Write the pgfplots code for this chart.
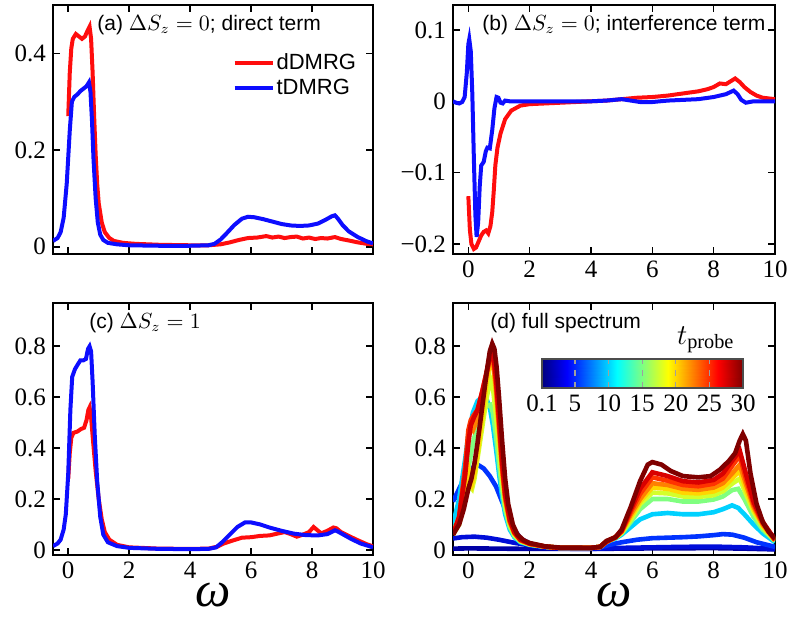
\documentclass[border=0pt]{standalone}
\usepackage{fontspec}
\setmainfont{Liberation Serif}
\setsansfont{Liberation Sans}
\usepackage{pgfplots}
\pgfplotsset{compat=1.18}

\definecolor{dred}{rgb}{1,0.05,0.05}
\definecolor{tblue}{rgb}{0.05,0.05,1}
\definecolor{c01}{rgb}{0,0,0.65}
\definecolor{c02}{rgb}{0,0.05,0.85}
\definecolor{c05}{rgb}{0,0.2,1}
\definecolor{c10}{rgb}{0,0.82,1}
\definecolor{c15}{rgb}{0.5,1,0.5}
\definecolor{c17}{rgb}{0.83,1,0.17}
\definecolor{c20}{rgb}{1,0.84,0}
\definecolor{c22}{rgb}{1,0.5,0}
\definecolor{c25}{rgb}{1,0.2,0}
\definecolor{c27}{rgb}{0.85,0,0}
\definecolor{c30}{rgb}{0.5,0,0}

\pgfplotsset{
  panel/.style={
    scale only axis,
    anchor=south west,
    xmin=-0.5, xmax=10,
    xtick={0,2,4,6,8,10},
    tick align=inside,
    major tick length=3.5pt,
    axis line style={line width=0.8pt},
    every tick/.style={line width=0.8pt, black},
    tick label style={font=\fontsize{12.5}{14}\selectfont},
    x label style={at={(axis description cs:0.5,-0.16)}, anchor=center,
                   font=\fontsize{25}{27}\selectfont},
  },
}
\tikzset{lab/.style={anchor=west, inner sep=0pt, font=\sffamily\fontsize{10.5}{12}\selectfont}}

\begin{document}
\begin{tikzpicture}
\useasboundingbox (0,0) rectangle (395pt,309.5pt);

% (a)
\begin{axis}[panel,
  at={(26.5pt,182.5pt)}, width=160pt, height=124.5pt,
  ymin=-0.015, ymax=0.5,
  ytick={0,0.2,0.4}, yticklabels={0,0.2,0.4},
  xticklabel=\empty,
  legend style={draw=none, fill=none, at={(0.56,0.717)}, anchor=west,
    inner sep=0pt, row sep=1.5pt, nodes={inner sep=1pt},
    font=\sffamily\fontsize{11}{13}\selectfont},
  legend cell align=left,
  legend image code/.code={\draw[#1] (0pt,0pt) -- (19pt,0pt);},
]
\addplot[dred, line width=2pt] coordinates {
(0,0.27)(0.05,0.36)(0.1,0.41)(0.15,0.43)(0.25,0.44)(0.35,0.435)(0.45,0.43)(0.55,0.435)
(0.62,0.445)(0.7,0.455)(0.75,0.43)(0.8,0.36)(0.85,0.27)(0.9,0.19)(0.95,0.13)(1.0,0.09)
(1.1,0.05)(1.2,0.03)(1.35,0.018)(1.5,0.012)(1.8,0.008)(2.2,0.006)(3,0.004)(4,0.003)
(4.6,0.003)(5,0.005)(5.3,0.009)(5.6,0.014)(5.9,0.018)(6.2,0.019)(6.5,0.022)(6.7,0.019)
(6.9,0.021)(7.1,0.018)(7.3,0.02)(7.5,0.021)(7.7,0.017)(7.9,0.019)(8.1,0.016)(8.3,0.018)
(8.5,0.017)(8.75,0.02)(8.95,0.016)(9.2,0.013)(9.5,0.009)(9.8,0.006)(10,0.005)};
\addlegendentry{dDMRG}
\addplot[tblue, line width=2pt] coordinates {
(-0.5,0.012)(-0.35,0.018)(-0.25,0.03)(-0.15,0.06)(-0.05,0.13)(0.05,0.24)(0.12,0.3)
(0.2,0.31)(0.3,0.315)(0.4,0.322)(0.5,0.327)(0.6,0.332)(0.68,0.34)(0.73,0.32)(0.78,0.26)
(0.83,0.18)(0.9,0.1)(0.97,0.05)(1.05,0.025)(1.15,0.014)(1.3,0.008)(1.6,0.005)(2,0.003)
(3,0.002)(4,0.002)(4.6,0.003)(4.8,0.006)(5,0.015)(5.2,0.028)(5.45,0.045)(5.7,0.058)
(5.9,0.062)(6.1,0.061)(6.4,0.057)(6.7,0.052)(7,0.047)(7.3,0.044)(7.6,0.043)(7.9,0.044)
(8.2,0.048)(8.45,0.056)(8.65,0.063)(8.75,0.065)(8.85,0.058)(9.0,0.045)(9.2,0.032)
(9.5,0.02)(9.8,0.011)(10,0.007)};
\addlegendentry{tDMRG}
\node[lab] at (rel axis cs:0.1375,0.92) {(a) $\Delta S_z=0$; direct term};
\end{axis}

% (b)
\begin{axis}[panel,
  at={(226.5pt,182.5pt)}, width=161pt, height=124.5pt,
  ymin=-0.214, ymax=0.135,
  ytick={-0.2,-0.1,0,0.1}, yticklabels={−0.2,−0.1,0,0.1},
  xticklabels={0,2,4,6,8,10},
]
\addplot[dred, line width=2pt] coordinates {
(0,-0.133)(0.05,-0.18)(0.1,-0.2)(0.18,-0.207)(0.25,-0.205)(0.33,-0.197)(0.42,-0.188)
(0.5,-0.183)(0.58,-0.181)(0.65,-0.185)(0.72,-0.175)(0.78,-0.155)(0.83,-0.125)(0.88,-0.09)
(0.95,-0.065)(1.05,-0.045)(1.2,-0.025)(1.4,-0.013)(1.7,-0.006)(2,-0.004)(3,-0.002)(4,0)
(4.5,0.001)(5,0.003)(5.5,0.005)(6,0.006)(6.5,0.008)(7,0.011)(7.5,0.014)(7.8,0.017)
(8,0.02)(8.2,0.025)(8.4,0.024)(8.55,0.028)(8.7,0.032)(8.85,0.027)(9,0.02)(9.2,0.013)
(9.4,0.008)(9.6,0.005)(10,0.003)};
\addplot[tblue, line width=2pt] coordinates {
(-0.5,0)(-0.4,-0.002)(-0.3,-0.003)(-0.2,-0.001)(-0.12,0.006)(-0.05,0.04)(0,0.08)
(0.03,0.087)(0.08,0.07)(0.13,0.01)(0.18,-0.08)(0.23,-0.16)(0.27,-0.19)(0.32,-0.17)
(0.37,-0.12)(0.42,-0.09)(0.5,-0.085)(0.57,-0.07)(0.62,-0.065)(0.7,-0.066)(0.78,-0.04)
(0.85,-0.01)(0.92,0.006)(0.98,0.005)(1.05,-0.002)(1.12,-0.003)(1.2,0.001)(1.35,0)(2,0)
(4,0)(4.5,0.001)(5,0.003)(5.3,0.001)(5.6,-0.001)(6,-0.001)(6.5,0.001)(7,0.002)(7.5,0.003)
(8,0.006)(8.4,0.01)(8.65,0.015)(8.78,0.01)(8.9,0.002)(9.05,-0.002)(9.3,0)(10,0)};
\node[lab] at (rel axis cs:0.09,0.92) {(b) $\Delta S_z=0$; interference term};
\end{axis}

% (c)
\begin{axis}[panel,
  at={(26.5pt,32pt)}, width=160pt, height=126pt,
  ymin=-0.02, ymax=0.97,
  ytick={0,0.2,0.4,0.6,0.8}, yticklabels={0,0.2,0.4,0.6,0.8},
  xticklabels={0,2,4,6,8,10},
  xlabel={\itshape ω},
]
\addplot[dred, line width=2pt] coordinates {
(0,0.28)(0.05,0.38)(0.1,0.44)(0.17,0.46)(0.3,0.465)(0.42,0.475)(0.52,0.48)(0.6,0.51)
(0.66,0.55)(0.7,0.56)(0.75,0.52)(0.82,0.42)(0.9,0.31)(1.0,0.2)(1.1,0.12)(1.2,0.07)
(1.35,0.04)(1.6,0.02)(2,0.01)(3,0.005)(4,0.004)(4.6,0.005)(4.9,0.013)(5.1,0.025)
(5.4,0.037)(5.7,0.048)(6,0.05)(6.3,0.055)(6.6,0.057)(6.9,0.065)(7.1,0.07)(7.3,0.062)
(7.5,0.052)(7.7,0.06)(7.9,0.07)(8.05,0.09)(8.15,0.08)(8.3,0.065)(8.5,0.075)(8.7,0.088)
(8.8,0.085)(8.95,0.07)(9.2,0.055)(9.5,0.038)(9.8,0.022)(10,0.014)};
\addplot[tblue, line width=2pt] coordinates {
(-0.5,0.015)(-0.35,0.025)(-0.25,0.04)(-0.15,0.08)(-0.08,0.14)(0,0.3)(0.07,0.55)
(0.13,0.68)(0.22,0.71)(0.32,0.73)(0.4,0.745)(0.5,0.745)(0.58,0.75)(0.65,0.79)(0.7,0.8)
(0.75,0.78)(0.8,0.66)(0.87,0.45)(0.95,0.27)(1.05,0.13)(1.15,0.06)(1.3,0.03)(1.6,0.015)
(2,0.008)(3,0.004)(4,0.003)(4.6,0.004)(4.85,0.01)(5.05,0.03)(5.3,0.06)(5.55,0.09)
(5.8,0.108)(6,0.108)(6.3,0.1)(6.6,0.088)(7,0.075)(7.4,0.064)(7.8,0.058)(8.2,0.057)
(8.5,0.062)(8.75,0.077)(8.85,0.072)(9.0,0.062)(9.3,0.042)(9.6,0.025)(10,0.01)};
\node[lab] at (rel axis cs:0.1125,0.92) {(c) $\Delta S_z=1$};
\end{axis}

% (d)
\begin{axis}[panel,
  at={(226.5pt,32pt)}, width=161pt, height=126pt,
  ymin=-0.02, ymax=0.97,
  ytick={0,0.2,0.4,0.6,0.8}, yticklabels={0,0.2,0.4,0.6,0.8},
  xticklabels={0,2,4,6,8,10},
  xlabel={\itshape ω},
]
\addplot[c01, line width=2.3pt] coordinates {
(-0.5,0.005)(0,0.006)(2,0.004)(4,0.004)(6,0.006)(8,0.007)(9,0.005)(10,0.002)};
\addplot[c02, line width=2.3pt] coordinates {
(-0.5,0.045)(-0.2,0.05)(0.2,0.052)(0.6,0.048)(1,0.04)(1.5,0.028)(2,0.018)(2.5,0.01)
(3,0.006)(3.5,0.004)(4,0.004)(4.5,0.006)(5,0.008)(6,0.01)(7,0.012)(8,0.013)(9,0.01)(10,0.004)};
\addplot[c05, line width=2.3pt] coordinates {
(-0.5,0.19)(-0.3,0.24)(-0.1,0.29)(0.1,0.32)(0.3,0.335)(0.5,0.32)(0.7,0.29)(0.9,0.25)
(1.1,0.19)(1.3,0.13)(1.5,0.08)(1.7,0.045)(2,0.025)(2.5,0.012)(3,0.007)(3.5,0.006)(4,0.007)
(4.3,0.01)(4.6,0.02)(5,0.03)(5.5,0.04)(6,0.046)(6.5,0.048)(7,0.05)(7.5,0.053)(8,0.058)
(8.3,0.062)(8.6,0.06)(9,0.048)(9.4,0.03)(10,0.012)};
\addplot[c10, line width=2.3pt] coordinates {
(-0.5,0.1)(-0.3,0.2)(-0.1,0.36)(0,0.45)(0.15,0.54)(0.3,0.585)(0.45,0.6)(0.6,0.59)
(0.7,0.56)(0.8,0.49)(0.9,0.4)(1.0,0.3)(1.1,0.21)(1.2,0.14)(1.35,0.08)(1.5,0.05)(1.7,0.03)
(2,0.02)(2.5,0.012)(3,0.008)(4,0.008)(4.3,0.012)(4.5,0.03)(4.8,0.045)(5,0.06)(5.3,0.09)
(5.6,0.12)(6,0.14)(6.5,0.145)(7,0.14)(7.5,0.14)(8,0.148)(8.3,0.16)(8.6,0.175)(8.8,0.165)
(9,0.14)(9.3,0.1)(9.6,0.065)(10,0.03)};
\addplot[c15, line width=2.3pt] coordinates {
(-0.5,0.07)(-0.3,0.13)(-0.1,0.25)(0,0.32)(0.15,0.42)(0.3,0.49)(0.45,0.54)(0.6,0.565)
(0.72,0.57)(0.8,0.54)(0.9,0.45)(1.0,0.34)(1.1,0.24)(1.2,0.16)(1.35,0.09)(1.5,0.055)
(1.7,0.033)(2,0.021)(2.5,0.013)(3,0.008)(4,0.008)(4.3,0.012)(4.5,0.032)(4.8,0.048)
(5,0.065)(5.3,0.11)(5.6,0.16)(6,0.2)(6.5,0.2)(7,0.19)(7.5,0.19)(8,0.198)(8.3,0.21)
(8.6,0.235)(8.8,0.24)(9,0.2)(9.3,0.13)(9.6,0.08)(10,0.035)};
\addplot[c17, line width=2.3pt] coordinates {
(-0.5,0.06)(-0.3,0.1)(-0.1,0.2)(0,0.28)(0.05,0.25)(0.12,0.24)(0.2,0.28)(0.3,0.36)
(0.45,0.48)(0.6,0.6)(0.72,0.67)(0.8,0.64)(0.9,0.53)(1.0,0.4)(1.1,0.28)(1.2,0.18)
(1.35,0.1)(1.5,0.06)(1.7,0.035)(2,0.022)(2.5,0.013)(3,0.008)(4,0.008)(4.3,0.012)
(4.5,0.032)(4.8,0.048)(5,0.068)(5.3,0.12)(5.6,0.18)(6,0.225)(6.5,0.222)(7,0.21)
(7.5,0.208)(8,0.215)(8.3,0.23)(8.6,0.26)(8.85,0.28)(9.05,0.22)(9.3,0.15)(9.6,0.09)(10,0.036)};
\addplot[c20, line width=2.3pt] coordinates {
(-0.5,0.06)(-0.3,0.11)(-0.1,0.22)(0,0.32)(0.06,0.28)(0.12,0.26)(0.2,0.3)(0.3,0.38)
(0.45,0.52)(0.6,0.66)(0.72,0.75)(0.8,0.74)(0.9,0.62)(1.0,0.46)(1.1,0.31)(1.2,0.2)
(1.35,0.11)(1.5,0.065)(1.7,0.037)(2,0.023)(2.5,0.013)(3,0.008)(4,0.008)(4.3,0.012)
(4.5,0.032)(4.8,0.05)(5,0.07)(5.3,0.13)(5.6,0.19)(6,0.245)(6.5,0.24)(7,0.225)(7.5,0.222)
(8,0.23)(8.3,0.245)(8.6,0.28)(8.85,0.31)(9.05,0.24)(9.3,0.16)(9.6,0.095)(10,0.037)};
\addplot[c22, line width=2.3pt] coordinates {
(-0.5,0.06)(-0.3,0.12)(-0.1,0.3)(0,0.45)(0.08,0.48)(0.15,0.47)(0.25,0.5)(0.35,0.55)
(0.5,0.63)(0.62,0.7)(0.72,0.76)(0.8,0.75)(0.9,0.64)(1.0,0.48)(1.1,0.32)(1.2,0.2)
(1.35,0.11)(1.5,0.066)(1.7,0.038)(2,0.024)(2.5,0.013)(3,0.008)(4,0.008)(4.3,0.012)
(4.5,0.032)(4.8,0.05)(5,0.072)(5.3,0.14)(5.6,0.2)(6,0.262)(6.5,0.255)(7,0.24)(7.5,0.236)
(8,0.245)(8.3,0.262)(8.6,0.3)(8.85,0.335)(9.05,0.26)(9.3,0.17)(9.6,0.1)(10,0.038)};
\addplot[c25, line width=2.3pt] coordinates {
(-0.5,0.06)(-0.3,0.13)(-0.1,0.33)(0,0.47)(0.08,0.51)(0.18,0.53)(0.3,0.55)(0.45,0.62)
(0.6,0.7)(0.72,0.77)(0.8,0.77)(0.9,0.66)(1.0,0.5)(1.1,0.33)(1.2,0.21)(1.35,0.115)
(1.5,0.068)(1.7,0.039)(2,0.024)(2.5,0.013)(3,0.008)(4,0.008)(4.3,0.012)(4.5,0.032)
(4.8,0.05)(5,0.074)(5.3,0.15)(5.6,0.22)(6,0.285)(6.5,0.272)(7,0.255)(7.5,0.25)(8,0.26)
(8.3,0.28)(8.6,0.33)(8.85,0.37)(9.05,0.28)(9.3,0.18)(9.6,0.105)(10,0.039)};
\addplot[c27, line width=2.3pt] coordinates {
(-0.5,0.06)(-0.3,0.13)(-0.1,0.3)(0,0.42)(0.08,0.49)(0.18,0.52)(0.3,0.55)(0.45,0.62)
(0.6,0.7)(0.72,0.77)(0.8,0.78)(0.9,0.68)(1.0,0.52)(1.1,0.35)(1.2,0.22)(1.35,0.12)
(1.5,0.07)(1.7,0.04)(2,0.025)(2.5,0.013)(3,0.008)(4,0.008)(4.3,0.012)(4.5,0.032)
(4.8,0.05)(5,0.075)(5.3,0.16)(5.6,0.24)(6,0.305)(6.5,0.29)(7,0.27)(7.5,0.265)(8,0.275)
(8.3,0.3)(8.6,0.35)(8.85,0.39)(9.05,0.3)(9.3,0.19)(9.6,0.11)(10,0.04)};
\addplot[c30, line width=2.3pt] coordinates {
(-0.5,0.06)(-0.3,0.1)(-0.15,0.16)(0,0.24)(0.1,0.28)(0.2,0.34)(0.3,0.42)(0.45,0.56)
(0.6,0.7)(0.7,0.78)(0.78,0.81)(0.85,0.79)(0.92,0.72)(1.0,0.6)(1.1,0.43)(1.2,0.28)
(1.3,0.18)(1.45,0.1)(1.6,0.06)(1.8,0.038)(2,0.027)(2.5,0.014)(3,0.009)(4,0.008)
(4.3,0.012)(4.5,0.035)(4.8,0.05)(5,0.08)(5.3,0.17)(5.6,0.27)(5.85,0.335)(6,0.345)
(6.3,0.335)(6.6,0.31)(7,0.29)(7.5,0.285)(7.9,0.29)(8.2,0.315)(8.5,0.35)(8.7,0.38)
(8.85,0.43)(8.95,0.455)(9.05,0.43)(9.2,0.3)(9.4,0.18)(9.6,0.11)(9.8,0.07)(10,0.045)};
\node[lab] at (rel axis cs:0.115,0.92) {(d) full spectrum};
\node[font=\fontsize{14.5}{16}\selectfont, inner sep=0pt] at (rel axis cs:0.785,0.853) {$t_{\mathrm{probe}}$};
\end{axis}

% colour scale of t_probe
\begin{axis}[
  at={(271pt,115.5pt)}, anchor=south west, scale only axis,
  width=100.5pt, height=14.5pt,
  xmin=0.1, xmax=30, ymin=0, ymax=1, ytick=\empty,
  xtick={0.1,5,10,15,20,25,30},
  xticklabels={0.1,5,10,15,20,25,30},
  xticklabel pos=lower,
  tick label style={font=\fontsize{12.5}{14}\selectfont},
  xmajorgrids, major grid style={gray!75, dashed, line width=0.6pt},
  major tick length=0pt, axis on top,
  axis line style={line width=0.6pt, black!70},
  colormap/jet, point meta min=0.1, point meta max=30,
]
\addplot[surf, shader=interp, point meta=x] coordinates {
(0.1,0) (3.8375,0) (11.3125,0) (18.7875,0) (26.2625,0) (30,0)

(0.1,1) (3.8375,1) (11.3125,1) (18.7875,1) (26.2625,1) (30,1)
};
\end{axis}
\end{tikzpicture}
\end{document}
